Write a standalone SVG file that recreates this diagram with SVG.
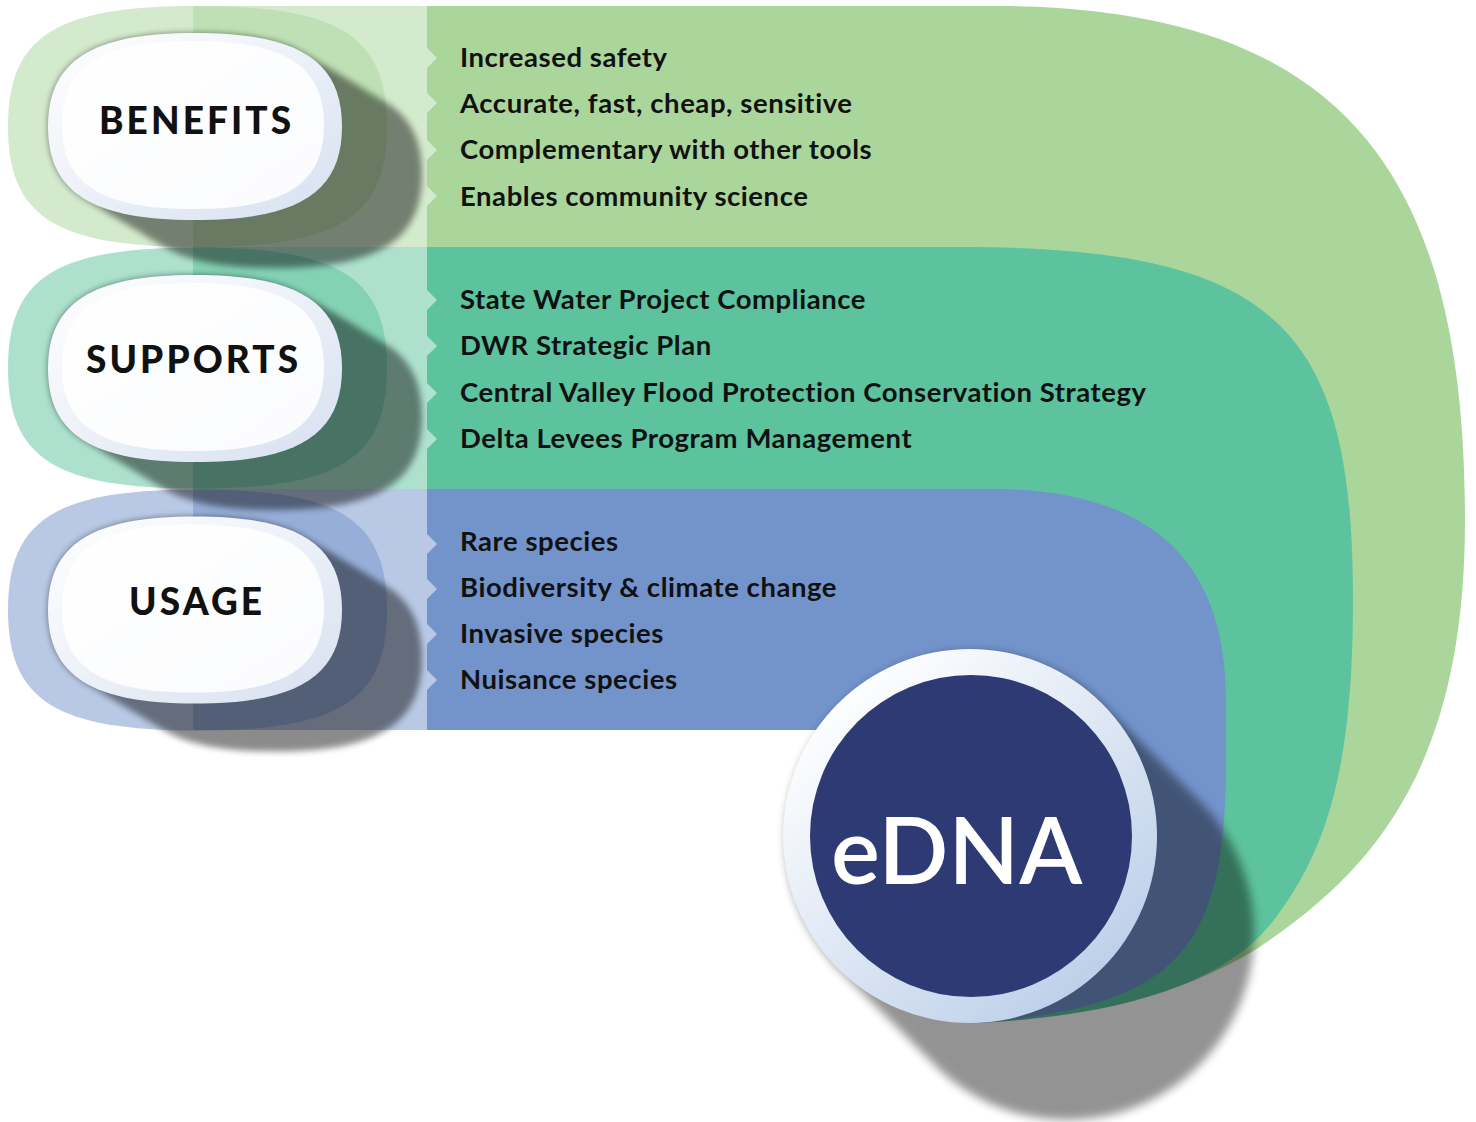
<svg xmlns="http://www.w3.org/2000/svg" xmlns:xlink="http://www.w3.org/1999/xlink" width="1476" height="1122" viewBox="0 0 1476 1122">
<defs>
<style>
.item{font-family:Lato,"Liberation Sans",sans-serif;font-weight:700;font-size:27.5px;letter-spacing:0.55px;fill:#111}
.lbl{font-family:Lato,"Liberation Sans",sans-serif;font-weight:900;font-size:37px;fill:#111;letter-spacing:3.1px;text-anchor:middle}
.edna{font-family:Lato,"Liberation Sans",sans-serif;font-weight:600;font-size:92px;fill:#fff}
.g50{fill:#aad69b;opacity:0.5}
.t50{fill:#5cc39e;opacity:0.5}
.b50{fill:#7393cb;opacity:0.5}
</style>
<path id="pill" d="M-189.5,0 C-189.5,-90.4 -142.1,-120.5 0,-120.5 C142.1,-120.5 189.5,-90.4 189.5,0 C189.5,90.4 142.1,120.5 0,120.5 C-142.1,120.5 -189.5,90.4 -189.5,0 Z"/>
<path id="oval" d="M-147,0 C-147,-66 -103,-93.5 0,-93.5 C103,-93.5 147,-66 147,0 C147,66 103,93.5 0,93.5 C-103,93.5 -147,66 -147,0 Z"/>
<path id="face" d="M-131,0 C-131,-59 -92,-84 0,-84 C92,-84 131,-59 131,0 C131,59 92,84 0,84 C-92,84 -131,59 -131,0 Z"/>
<linearGradient id="ringG" x1="0" y1="0" x2="1" y2="1">
<stop offset="0" stop-color="#ffffff"/>
<stop offset="0.45" stop-color="#eef2f9"/>
<stop offset="1" stop-color="#d6e0f0"/>
</linearGradient>
<linearGradient id="faceG" x1="0" y1="0" x2="1" y2="1">
<stop offset="0" stop-color="#ffffff"/>
<stop offset="1" stop-color="#fafbfd"/>
</linearGradient>
<linearGradient id="cringG" x1="0.15" y1="0.1" x2="0.85" y2="0.9">
<stop offset="0" stop-color="#ffffff"/>
<stop offset="1" stop-color="#bccfe9"/>
</linearGradient>
<filter id="sblur" x="-20%" y="-20%" width="140%" height="140%">
<feGaussianBlur stdDeviation="3"/>
</filter>
<filter id="cblur" x="-20%" y="-20%" width="140%" height="140%">
<feGaussianBlur stdDeviation="5"/>
</filter>
</defs>

<g id="band-benefits">
<path fill="#aad69b" d="M427,6 H1000 C1350,8 1465,180 1465,520 C1465,760 1380,870 1250,953 C1170,1000 1080,1015 980,1023 L970,836 L900,700 L427,247 Z"/>
<rect class="g50" x="193" y="6" width="234" height="241"/>
<use href="#pill" class="g50" x="197.5" y="126.5"/>
<g fill="#d4eacd">
<polygon points="427,48 437,58 427,68"/>
<polygon points="427,93 437,103 427,113"/>
<polygon points="427,140 437,150 427,160"/>
<polygon points="427,186 437,196 427,206"/>
</g>
</g>

<g id="band-supports">
<path fill="#5cc39e" d="M427,247 H960 C1280,247 1353,330 1353,600 C1353,760 1330,850 1270,925 C1220,985 1120,1015 980,1023 L970,836 L900,700 L427,489 Z"/>
<rect class="t50" x="193" y="247" width="234" height="242"/>
<use href="#pill" class="t50" x="197.5" y="368"/>
<g fill="#aee1cf">
<polygon points="427,290 437,300 427,310"/>
<polygon points="427,336 437,346 427,356"/>
<polygon points="427,383 437,393 427,403"/>
<polygon points="427,429 437,439 427,449"/>
</g>
</g>

<g id="band-usage">
<path fill="#7393cb" d="M427,489 H1000 C1150,492 1226,560 1226,700 V760 C1226,950 1180,1005 980,1023 L970,836 L816,730 H427 Z"/>
<rect class="b50" x="193" y="489" width="234" height="241"/>
<use href="#pill" class="b50" x="197.5" y="610"/>
<g fill="#b9c9e5">
<polygon points="427,534 437,544 427,554"/>
<polygon points="427,579 437,589 427,599"/>
<polygon points="427,624 437,634 427,644"/>
<polygon points="427,670 437,680 427,690"/>
</g>
</g>

<g id="shadows">
<g opacity="0.45" filter="url(#sblur)">
<g transform="translate(195,126.5)">
<use href="#oval" x="0" y="0"/><use href="#oval" x="8" y="4.8"/><use href="#oval" x="16" y="9.6"/><use href="#oval" x="24" y="14.4"/><use href="#oval" x="32" y="19.2"/><use href="#oval" x="40" y="24"/><use href="#oval" x="48" y="28.8"/><use href="#oval" x="56" y="33.6"/><use href="#oval" x="64" y="38.4"/><use href="#oval" x="72" y="43.2"/><use href="#oval" x="80" y="48"/>
</g>
</g>
<g opacity="0.45" filter="url(#sblur)">
<g transform="translate(195,368.5)">
<use href="#oval" x="0" y="0"/><use href="#oval" x="8" y="4.8"/><use href="#oval" x="16" y="9.6"/><use href="#oval" x="24" y="14.4"/><use href="#oval" x="32" y="19.2"/><use href="#oval" x="40" y="24"/><use href="#oval" x="48" y="28.8"/><use href="#oval" x="56" y="33.6"/><use href="#oval" x="64" y="38.4"/><use href="#oval" x="72" y="43.2"/><use href="#oval" x="80" y="48"/>
</g>
</g>
<g opacity="0.45" filter="url(#sblur)">
<g transform="translate(195,610)">
<use href="#oval" x="0" y="0"/><use href="#oval" x="8" y="4.8"/><use href="#oval" x="16" y="9.6"/><use href="#oval" x="24" y="14.4"/><use href="#oval" x="32" y="19.2"/><use href="#oval" x="40" y="24"/><use href="#oval" x="48" y="28.8"/><use href="#oval" x="56" y="33.6"/><use href="#oval" x="64" y="38.4"/><use href="#oval" x="72" y="43.2"/><use href="#oval" x="80" y="48"/>
</g>
</g>
<path fill="#000" opacity="0.42" filter="url(#cblur)" d="M1102.2,703.8 L1199.2,800.8 A187,187 0 0 1 1199.2,1065.2 A187,187 0 0 1 934.8,1065.2 L837.8,968.2 A187,187 0 0 1 1102.2,703.8 Z"/>
</g>

<g id="node-benefits">
<use href="#oval" x="195" y="126.5" fill="url(#ringG)"/>
<use href="#face" x="193" y="125" fill="url(#faceG)"/>
<text class="lbl" x="196.6" y="134">BENEFITS</text>
</g>
<g id="node-supports">
<use href="#oval" x="195" y="368.5" fill="url(#ringG)"/>
<use href="#face" x="193" y="367" fill="url(#faceG)"/>
<text class="lbl" x="193.6" y="373">SUPPORTS</text>
</g>
<g id="node-usage">
<use href="#oval" x="195" y="610" fill="url(#ringG)"/>
<use href="#face" x="193" y="608.5" fill="url(#faceG)"/>
<text class="lbl" x="197.1" y="615">USAGE</text>
</g>

<g id="node-edna">
<circle cx="970" cy="836" r="187" fill="url(#cringG)"/>
<circle cx="971" cy="836" r="161" fill="#2e3a73"/>
<text class="edna" x="831" y="884">eDNA</text>
</g>

<g id="text-benefits">
<text class="item" x="460" y="67">Increased safety</text>
<text class="item" x="460" y="113">Accurate, fast, cheap, sensitive</text>
<text class="item" x="460" y="159">Complementary with other tools</text>
<text class="item" x="460" y="206">Enables community science</text>
</g>
<g id="text-supports">
<text class="item" x="460" y="309">State Water Project Compliance</text>
<text class="item" x="460" y="355">DWR Strategic Plan</text>
<text class="item" x="460" y="402">Central Valley Flood Protection Conservation Strategy</text>
<text class="item" x="460" y="448">Delta Levees Program Management</text>
</g>
<g id="text-usage">
<text class="item" x="460" y="551">Rare species</text>
<text class="item" x="460" y="597">Biodiversity &amp; climate change</text>
<text class="item" x="460" y="643">Invasive species</text>
<text class="item" x="460" y="689">Nuisance species</text>
</g>
</svg>
